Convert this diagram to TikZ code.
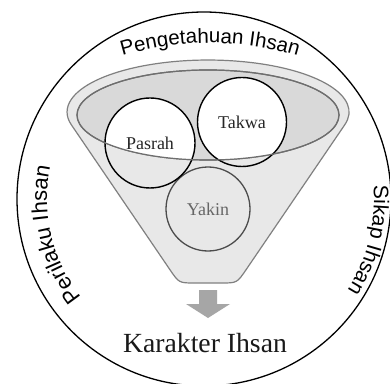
\documentclass[tikz,border=0pt]{standalone}
\usepackage{fontspec}
\setmainfont{Liberation Serif}
\setsansfont{Liberation Sans}
\usetikzlibrary{decorations.text}
\definecolor{funnelfill}{HTML}{E8E8E8}
\definecolor{topfill}{HTML}{D9D9D9}
\definecolor{funnelline}{HTML}{808080}
\definecolor{topline}{HTML}{6E6E6E}
\definecolor{arrowgray}{HTML}{A6A6A6}
\newcommand\ringfont{\fontsize{20.5}{24}\selectfont\sffamily}
\begin{document}
\ringfont
\begin{tikzpicture}[x=1pt,y=1pt,
  ringtext/.style={decorate},
  ringchar/.style={anchor=base, inner sep=0pt, font=\fontsize{#1}{24}\selectfont\sffamily},
  ballnode/.style={circle, draw=black, line width=1.4pt, inner sep=0pt},
  balltext/.style={font=\fontsize{18}{20}\selectfont\rmfamily, text=black!85},
]
\useasboundingbox (0,0) rectangle (390,383);
% outer ring
\draw[line width=1.3pt, fill=white] (204,184) circle[radius=187];
\coordinate (ringc) at (204,184);
\coordinate (topc) at (210,33);
% funnel body
\filldraw[fill=funnelfill, draw=funnelline, line width=1.2pt]
  (344.8,258.3) arc[start angle=-14.09, end angle=194.09, x radius=141, y radius=52]
  -- (170,113.2) .. controls (179,100) .. (195,100) -- (221,100)
  .. controls (237,100) .. (246,113.2) -- cycle;
% funnel mouth
\filldraw[fill=topfill, draw=topline, line width=1.2pt] (208,268) ellipse[x radius=131, y radius=45];
\begin{scope}
  \clip (208,268) ellipse[x radius=131, y radius=45];
  \fill[white] (150,240) circle[radius=45] (242,261) circle[radius=44.5];
\end{scope}
% circles
\node[ballnode, draw=black!70, line width=1.3pt, fill=funnelfill, minimum size=84pt] (yakin) at (208,174) {};
\node[ballnode, minimum size=90pt] (pasrah) at (150,240) {};
\node[ballnode, minimum size=89pt] (takwa) at (242,261) {};
% mouth rim over circles
\draw[topline, line width=1.2pt] (208,268) ellipse[x radius=131, y radius=45];
\node[balltext] at (pasrah.center) {Pasrah};
\node[balltext] at (takwa.center) {Takwa};
\node[balltext, text=black!60] at (yakin.center) {Yakin};
% arrow
\fill[arrowgray] (199,93) -- (217,93) -- (217,79) -- (230,79) -- (208,65) -- (186,79) -- (199,79) -- cycle;
\node[font=\fontsize{27.7}{32}\selectfont\rmfamily, anchor=base, text=black!90] (karakter) at (205,31) {Karakter Ihsan};
% ring texts
\path[ringtext, decoration={text along path, text align=center, text={Pengetahuan Ihsan}}]
  ([shift={(120:307)}]topc) arc[start angle=120, end angle=60, radius=307];
\foreach \a/\c in {216.25/P,211.34/e,207.77/r,205.55/i,203.76/l,200.64/a,196.40/k,192.16/u,
                   186.58/I,183.24/h,178.99/s,174.76/a,170.29/n}
  \node[ringchar=22, rotate=\a-90] at ([shift={(\a:157)}]ringc) {\c};
\foreach \a/\c in {2.13/S,-1.02/i,-3.57/k,-7.31/a,-11.24/p,
                   -16.16/I,-19.11/h,-22.85/s,-26.59/a,-30.52/n}
  \node[ringchar=21, rotate=\a-90] at ([shift={(\a:170)}]ringc) {\c};
\end{tikzpicture}
\end{document}
